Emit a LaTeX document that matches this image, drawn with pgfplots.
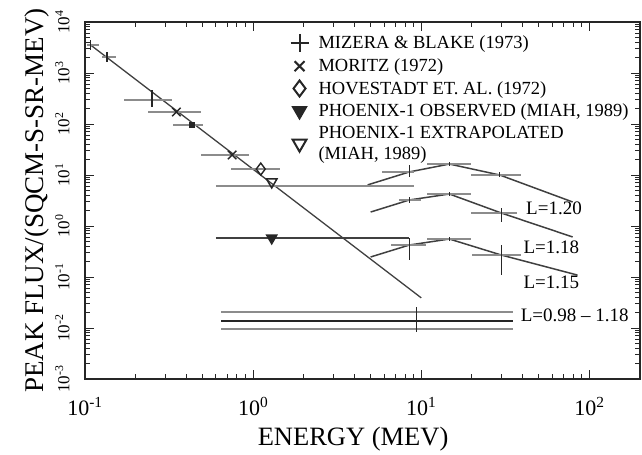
\documentclass[border=0pt]{standalone}
\usepackage{fontspec}
\setmainfont{Liberation Serif}
\usepackage{pgfplots}
\usepackage{pgfplotstable}
\pgfplotsset{compat=1.18}

% Mizera & Blake style plus points (x, y, x-err minus, x-err plus, y-err minus, y-err plus)
\pgfplotstableread{
x      y     exm     exp    eym   eyp
0.108  3540  0.0052  0.013  720   900
0.135  2060  0.008   0.018  420   520
0.25   296   0.08    0.08   81    169
}\mizera
\pgfplotstableread{
x     y      exm   exp   eym   eyp
8.5   11.5   2.64  0.6   2.4   4.2
14.7  16.4   3.9   5.1   1.5   1.8
29.3  10.0   9.5   10    1.0   1.2
8.5   3.24   1.1   1.5   0.4   0.5
14.7  4.24   3.9   5.1   0.4   0.5
29.9  1.80   10.1  7.4   0.6   0.45
8.5   0.424  1.9   2.2   0.209 0.158
14.7  0.556  3.9   5.1   0.05  0.06
29.9  0.27   9.9   9.4   0.161 0.154
}\lpoints
\pgfplotstableread{
x      y     exm    exp
0.35   172   0.113  0.14
0.75   24.7  0.26   0.195
}\moritz
\pgfplotstableread{
x      y     exm    exp
0.434  96    0.10   0.069
}\square
\pgfplotstableread{
x      y     exm    exp
1.11   13.1  0.37   0.34
}\hove

\begin{document}
\begin{tikzpicture}
\definecolor{ink}{gray}{0.15}
\definecolor{barc}{gray}{0.55}
\definecolor{linec}{gray}{0.25}
\begin{axis}[
  at={(0,0)}, anchor=south west,
  scale only axis, width=555pt, height=357pt,
  xmode=log, ymode=log,
  xmin=0.1, xmax=200, ymin=1e-3, ymax=1e4,
  axis line style={ink, line width=1.3pt},
  every tick/.style={ink, line width=0.9pt},
  major tick length=9pt, minor tick length=5pt,
  xtick={0.1,1,10,100},
  xticklabels={10\textsuperscript{-1},10\textsuperscript{0},10\textsuperscript{1},10\textsuperscript{2}},
  ytick={1e-3,1e-2,1e-1,1,10,100,1000,10000},
  yticklabels={10\textsuperscript{-3},10\textsuperscript{-2},10\textsuperscript{-1},10\textsuperscript{0},10\textsuperscript{1},10\textsuperscript{2},10\textsuperscript{3},10\textsuperscript{4}},
  xticklabel style={font=\fontsize{22}{22}\selectfont},
  xticklabel shift=15pt,
  yticklabel style={font=\fontsize{17}{17}\selectfont, rotate=90, anchor=south},
  yticklabel shift=12pt,
  xlabel={ENERGY (MEV)}, ylabel={PEAK FLUX/(SQCM-S-SR-MEV)},
  xlabel style={font=\fontsize{26.5}{26.5}\selectfont, at={(rel axis cs:0.483,-0.168)}, anchor=center},
  ylabel style={font=\fontsize{27}{27}\selectfont, at={(rel axis cs:-0.087,0.5)}, anchor=center},
  legend style={at={(rel axis cs:0.370,0.967)}, anchor=north west, draw=none, fill=none,
    font=\fontsize{18.5}{21.5}\selectfont, row sep=6pt, inner sep=0pt,
    cells={anchor=west, align=left}, nodes={inner sep=1pt},
    /tikz/every odd column/.append style={column sep=9pt}},
  legend cell align=left,
  clip=false,
]
% legend images
\addlegendimage{only marks, mark=+, mark size=9pt, mark options={line width=2pt, ink}}
\addlegendentry{MIZERA \& BLAKE (1973)}
\addlegendimage{only marks, mark=x, mark size=7pt, mark options={line width=2pt, ink}}
\addlegendentry{MORITZ (1972)}
\addlegendimage{only marks, mark=diamond, mark size=8pt, mark options={line width=2pt, ink}}
\addlegendentry{HOVESTADT ET. AL. (1972)}
\addlegendimage{only marks, mark=triangle*, mark size=8pt, mark options={rotate=180, line width=1.5pt, ink, fill=ink}}
\addlegendentry{PHOENIX-1 OBSERVED (MIAH, 1989)}
\addlegendimage{only marks, mark=triangle, mark size=8pt, mark options={rotate=180, line width=2pt, ink}}
\addlegendentry{PHOENIX-1 EXTRAPOLATED\\(MIAH, 1989)}

% main power-law line
\addplot[forget plot, linec, line width=1.3pt] coordinates {(0.108,3540) (10,0.039)};

% Mizera & Blake points: horizontal bars then vertical bars
\addplot[forget plot, draw=none, mark=none, error bars/.cd, x dir=both, x explicit,
  error mark=none, error bar style={barc, line width=2.6pt}]
  table[x error minus=exm, x error plus=exp] {\mizera};
\addplot[forget plot, draw=none, mark=none, error bars/.cd, y dir=both, y explicit,
  error mark=none, error bar style={ink, line width=1.3pt}]
  table[y error minus=eym, y error plus=eyp] {\mizera};

% L curves
\addplot[forget plot, linec, line width=1.5pt] coordinates {(4.8,6.4) (8.5,11.5) (14.7,16.4) (29.3,10.0) (79.5,2.96)};
\addplot[forget plot, linec, line width=1.5pt] coordinates {(5.0,1.88) (8.5,3.24) (14.7,4.24) (29.9,1.80) (79.5,0.61)};
\addplot[forget plot, linec, line width=1.5pt] coordinates {(5.0,0.247) (8.5,0.424) (14.7,0.556) (29.9,0.27) (85,0.109)};
\addplot[forget plot, draw=none, mark=none, error bars/.cd, x dir=both, x explicit,
  error mark=none, error bar style={barc, line width=2.6pt}]
  table[x error minus=exm, x error plus=exp] {\lpoints};
\addplot[forget plot, draw=none, mark=none, error bars/.cd, y dir=both, y explicit,
  error mark=none, error bar style={ink, line width=1.3pt}]
  table[y error minus=eym, y error plus=eyp] {\lpoints};

% Moritz
\addplot[forget plot, only marks, mark=x, mark size=6pt, mark options={line width=1.4pt, ink},
  error bars/.cd, x dir=both, x explicit, error mark=none, error bar style={barc, line width=2.6pt}]
  table[x error minus=exm, x error plus=exp] {\moritz};
% small filled square
\addplot[forget plot, only marks, mark=square*, mark size=2.5pt, mark options={ink, fill=ink},
  error bars/.cd, x dir=both, x explicit, error mark=none, error bar style={barc, line width=2.6pt}]
  table[x error minus=exm, x error plus=exp] {\square};
% Hovestadt
\addplot[forget plot, only marks, mark=diamond, mark size=6pt, mark options={line width=1.4pt, ink, fill=white},
  error bars/.cd, x dir=both, x explicit, error mark=none, error bar style={barc, line width=2.6pt}]
  table[x error minus=exm, x error plus=exp] {\hove};

% Phoenix-1 bars
\addplot[forget plot, barc, line width=2.2pt] coordinates {(0.6,6.1) (9.1,6.1)};
\addplot[forget plot, linec, line width=1.2pt] coordinates {(0.6,0.58) (8.5,0.58)};
% Phoenix-1 extrapolated (open) and observed (filled)
\addplot[forget plot, only marks, mark=triangle, mark size=6pt, mark options={rotate=180, line width=1.5pt, ink, fill=white}]
  coordinates {(1.29,7.3)};
\addplot[forget plot, only marks, mark=triangle*, mark size=6pt, mark options={rotate=180, line width=1.2pt, ink, fill=ink}]
  coordinates {(1.29,0.58)};

% L = 0.98 - 1.18 band
\addplot[forget plot, barc, line width=2.6pt] coordinates {(0.645,0.0206) (34.9,0.0206)};
\addplot[forget plot, ink, line width=1.8pt] coordinates {(0.645,0.0137) (34.9,0.0137)};
\addplot[forget plot, barc, line width=1.8pt] coordinates {(0.645,0.0095) (34.9,0.0095)};
\addplot[forget plot, ink, line width=1.2pt] coordinates {(9.4,0.0084) (9.4,0.0258)};

% curve labels
\node[anchor=west, font=\fontsize{19}{19}\selectfont, inner sep=0pt] at (axis cs:42,2.25) {L=1.20};
\node[anchor=west, font=\fontsize{19}{19}\selectfont, inner sep=0pt] at (axis cs:40.5,0.387) {L=1.18};
\node[anchor=west, font=\fontsize{19}{19}\selectfont, inner sep=0pt] at (axis cs:40.5,0.080) {L=1.15};
\node[anchor=west, font=\fontsize{19}{19}\selectfont, inner sep=0pt] at (axis cs:39,0.018) {L=0.98 -- 1.18};
\end{axis}
\path[use as bounding box] (-85pt,-75pt) rectangle (557pt,379pt);
\end{tikzpicture}
\end{document}
